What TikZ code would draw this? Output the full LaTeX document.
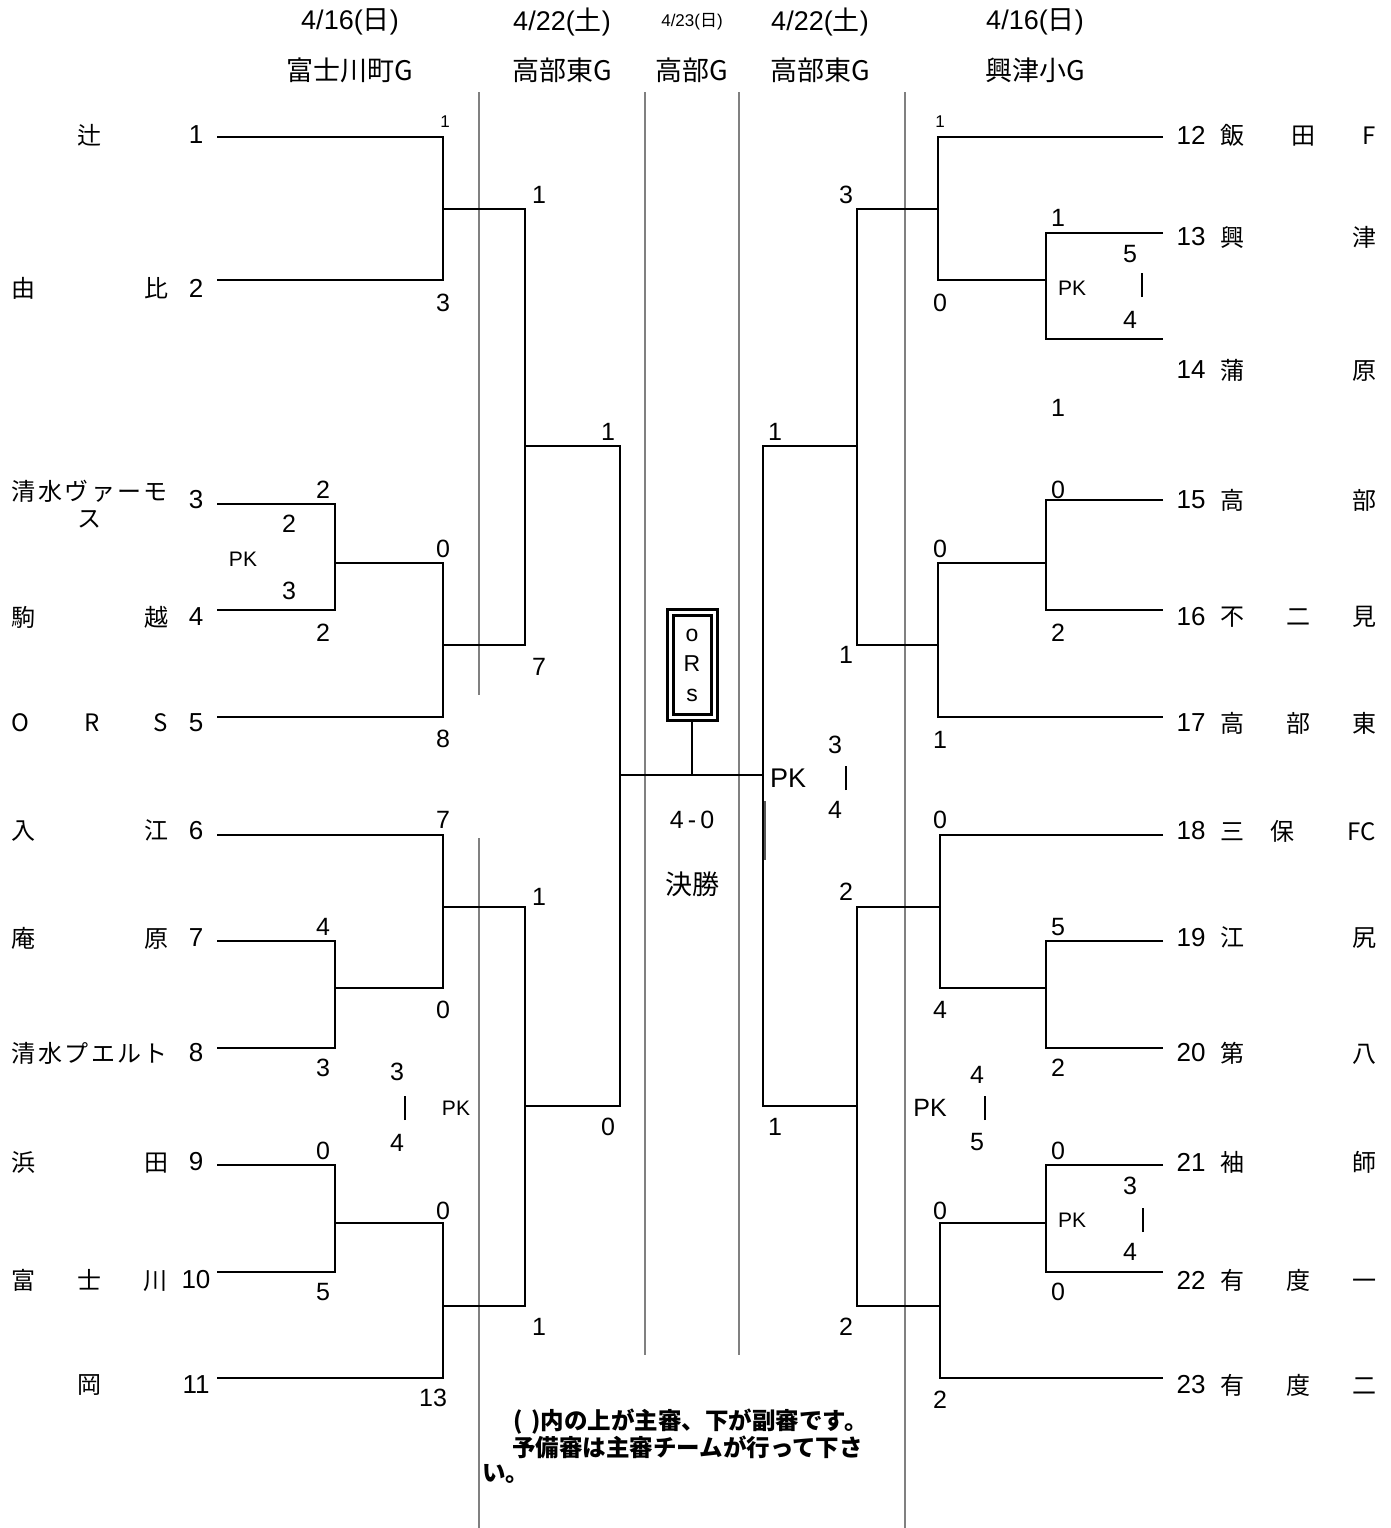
\documentclass[tikz,border=0pt]{standalone}
\usepackage{fontspec}
\setmainfont{Liberation Sans}
\newfontfamily\jp{Noto Sans CJK JP}
\usetikzlibrary{positioning}
\definecolor{cRule}{RGB}{128,128,128}
\newcommand\spread[1]{\makebox[156pt][s]{#1}}
\tikzset{
	bline/.style ={draw=black, line width=1.7pt},
	venue/.style ={draw=cRule, line width=2.8pt},
	head/.style  ={inner sep=0pt, font=\fontsize{27}{31}\selectfont},
	headjp/.style={inner sep=0pt, font=\fontsize{27}{31}\selectfont\jp},
	team/.style  ={inner sep=0pt, align=center, font=\fontsize{24}{27}\selectfont\jp},
	tnum/.style  ={inner sep=0pt, font=\fontsize{26}{29}\selectfont},
	score/.style ={inner sep=0pt, font=\fontsize{25}{28}\selectfont},
	tiny/.style  ={inner sep=0pt, font=\fontsize{17}{20}\selectfont},
	pk/.style    ={inner sep=0pt, font=\fontsize{21}{24}\selectfont},
	% final box
	orsbox/.style={draw=black, line width=3pt, double=white, double distance=3pt, minimum width=44pt, minimum height=105pt, inner sep=0pt, align=center, font=\fontsize{23}{30}\selectfont},
	memo/.style  ={inner sep=0pt, align=left, font=\fontsize{23.5}{25}\selectfont\jp\bfseries},
}
\begin{document}
\begin{tikzpicture}[x=1pt, y=-1pt]
	\fill[white] (0,0) rectangle (1391,1528);
	\useasboundingbox (0,0) rectangle (1391,1528);
	% column rules
	\foreach \x/\ya/\yb in {479/92/695, 479/838/1528, 645/92/1355, 739/92/1355, 905/92/1528}
		\draw[venue] (\x,\ya) -- (\x,\yb);
	\draw[draw=black!65, line width=2pt] (765,801) -- (765,860);
	% headings
	\foreach \x/\d/\g [count=\i] in {
		350/{4/16({\jp 日})}/{富士川町G},
		562/{4/22({\jp 土})}/{高部東G},
		820/{4/22({\jp 土})}/{高部東G},
		1035/{4/16({\jp 日})}/{興津小G}} {
		\node[head] (d\i) at (\x,22) {\d};
		\node[headjp] (g\i) at (\x,70) {\g};
	}
	\node[tiny] (d5) at (692,22) {4/23({\jp 日})};
	\node[headjp] (g5) at (692,70) {高部G};
	% left teams
	\foreach \n/\y/\ly/\ny/\lab in {
		1/135/137/135/{\spread{\hfill 辻\hfill}},
		2/288/280/288/{\spread{由\hfill 比}},
		3/500/504/504/{\spread{清\hfill 水\hfill ヴ\hfill ァ\hfill ー\hfill モ}\\ス},
		4/617/610/617/{\spread{駒\hfill 越}},
		5/723/717/723/{\spread{O\hfill R\hfill S}},
		6/831/835/831/{\spread{入\hfill 江}},
		7/938/941/938/{\spread{庵\hfill 原}},
		8/1053/1048/1053/{\spread{清\hfill 水\hfill プ\hfill エ\hfill ル\hfill ト}},
		9/1162/1165/1162/{\spread{浜\hfill 田}},
		10/1280/1272/1280/{\spread{富\hfill 士\hfill 川}},
		11/1385/1378/1385/{\spread{\hfill 岡\hfill}}} {
		\node[tnum] (n\n) at (196,\y) {\n};
		\node[team] (t\n) at (90,\ny) {\lab};
		\coordinate (a\n) at (217,\ly);
	}
	% right teams
	\foreach \n/\y/\ly/\lab in {
		12/135/137/{飯\hfill 田\hfill F},
		13/237/233/{興\hfill 津},
		14/370/339/{蒲\hfill 原},
		15/500/500/{高\hfill 部},
		16/617/610/{不\hfill 二\hfill 見},
		17/723/717/{高\hfill 部\hfill 東},
		18/831/835/{三\hfill 保\hfill\hfill FC},
		19/938/941/{江\hfill 尻},
		20/1053/1048/{第\hfill 八},
		21/1162/1165/{袖\hfill 師},
		22/1280/1272/{有\hfill 度\hfill 一},
		23/1385/1378/{有\hfill 度\hfill 二}} {
		\node[tnum] (n\n) at (1191,\y) {\n};
		\node[team] (t\n) at (1298,\y) {\spread{\lab}};
		\coordinate (a\n) at (1163,\ly);
	}
	% junctions
	\foreach \j/\x/\y in {J12/443/209, J34/335/563, J345/443/645, JLq1/525/446,
		J78/335/988, J678/443/907, J910/335/1223, J91011/443/1306, JLq2/525/1106, JLs/620/775,
		J1314/1046/280, J12x/938/209, J1516/1046/563, J1517/938/645, JRq1/857/446,
		J1920/1046/988, J1820/940/907, J2122/1046/1223, J2123/940/1306, JRq2/857/1106, JRs/763/775}
		\coordinate (\j) at (\x,\y);
	\foreach \u/\j/\d in {a1/J12/a2, a3/J34/a4, J34/J345/a5, J12/JLq1/J345,
		a7/J78/a8, a6/J678/J78, a9/J910/a10, J910/J91011/a11, J678/JLq2/J91011, JLq1/JLs/JLq2,
		a13/J1314/a14, a12/J12x/J1314, a15/J1516/a16, J1516/J1517/a17, J12x/JRq1/J1517,
		a19/J1920/a20, a18/J1820/J1920, a21/J2122/a22, J2122/J2123/a23, J1820/JRq2/J2123, JRq1/JRs/JRq2}
		\draw[bline] (\u) -| (\j) |- (\d);
	\draw[bline] (JLs) -- (JRs);
	% final
	\node[orsbox] (ors) at (692,665) {o\\R\\s};
	\draw[bline] (ors.south) -- (ors.south |- JLs);
	\node[score] (res) at (692,820) {4\,-\,0};
	\node[headjp] (fin) at (692,884) {決勝};
	% scores
	\foreach \x/\y/\s [count=\i] in {
		443/303/3, 539/195/1, 539/667/7, 608/432/1, 608/1127/0,
		323/490/2, 289/524/2, 289/591/3, 323/633/2, 443/549/0, 443/739/8,
		443/820/7, 323/927/4, 443/1010/0, 323/1068/3, 539/897/1,
		397/1072/3, 405/1108/{\rule{2pt}{24pt}}, 397/1143/4,
		323/1151/0, 443/1211/0, 323/1292/5, 539/1327/1, 433/1398/13}
		\node[score] (sl\i) at (\x,\y) {\s};
	\foreach \x/\y/\s [count=\i] in {
		846/195/3, 940/303/0, 1058/218/1, 1130/254/5, 1142/285/{\rule{2pt}{24pt}}, 1130/320/4,
		1058/408/1, 775/432/1, 1058/490/0, 940/549/0, 1058/633/2, 846/655/1, 940/740/1,
		835/745/3, 846/778/{\rule{2pt}{24pt}}, 835/810/4,
		940/820/0, 846/892/2, 1058/927/5, 940/1010/4, 1058/1068/2,
		977/1075/4, 985/1108/{\rule{2pt}{24pt}}, 977/1142/5, 775/1127/1,
		1058/1151/0, 940/1211/0, 1130/1186/3, 1143/1220/{\rule{2pt}{24pt}}, 1130/1252/4,
		1058/1292/0, 846/1327/2, 940/1400/2}
		\node[score] (sr\i) at (\x,\y) {\s};
	\node[tiny] (sl0) at (445,122) {1};
	\node[tiny] (sr0) at (940,122) {1};
	\foreach \x/\y [count=\i] in {243/559, 456/1108, 1072/288, 1072/1220}
		\node[pk] (pk\i) at (\x,\y) {PK};
	\node[score] (pk5) at (930,1108) {PK};
	\node[head] (pk6) at (788,778) {PK};
	% note
	\node[memo, anchor=west] (note) at (482,1446) {\hspace*{31pt}(\hspace{9pt})内の上が主審、下が副審です。\\\hspace*{30pt}予備審は主審チームが行って下さ\\い。};
\end{tikzpicture}
\end{document}
